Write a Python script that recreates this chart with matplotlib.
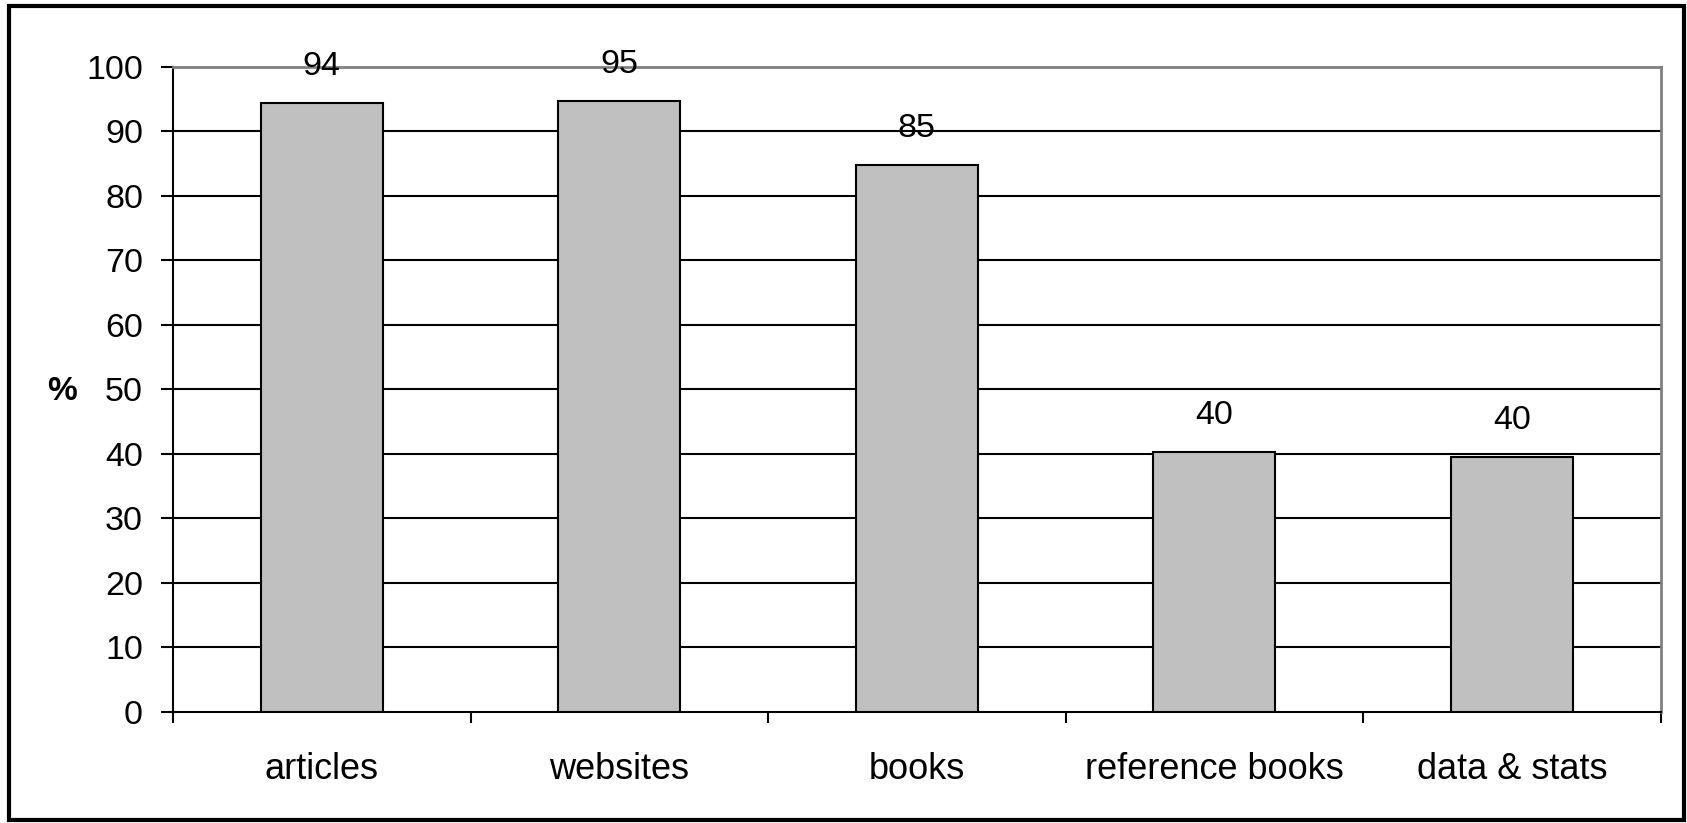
import numpy as np
import matplotlib.pyplot as plt
from matplotlib.patches import Rectangle

plt.rcParams['font.family'] = ['Liberation Sans', 'DejaVu Sans']

# Data
categories = ['articles', 'websites', 'books', 'reference books', 'data & stats']
values = [94.3, 94.7, 84.7, 40.3, 39.5]
labels = ['94', '95', '85', '40', '40']

fig = plt.figure(figsize=(16.87, 8.23), dpi=100)
ax = fig.add_axes([0.1025, 0.135, 0.882, 0.784])

x = np.arange(len(categories))
bars = ax.bar(x, values, width=0.41, color='#C0C0C0', edgecolor='black',
              linewidth=1.5, zorder=3)

for xi, v, lab in zip(x, values, labels):
    ax.annotate(lab, (xi, v), xytext=(0, 26.5), textcoords='offset points',
                ha='center', va='center', fontsize=24.5, zorder=4)

ax.set_xlim(-0.5, len(categories) - 0.5)
ax.set_ylim(0, 100)
ax.set_yticks(np.arange(0, 101, 10))
ax.tick_params(axis='y', labelsize=24.5, length=8.5, width=1.5, direction='out', pad=13)

# category labels centred, ticks at the boundaries
ax.set_xticks(x)
ax.set_xticklabels(categories, fontsize=26)
ax.tick_params(axis='x', which='major', length=0, pad=29)
ax.set_xticks(np.arange(-0.5, len(categories)), minor=True)
ax.tick_params(axis='x', which='minor', length=8, width=1.5, direction='out')

for yv in range(10, 100, 10):
    ax.axhline(yv, color='black', linewidth=1.5, zorder=1)

ax.spines['left'].set_color('black')
ax.spines['bottom'].set_color('black')
ax.spines['left'].set_linewidth(1.5)
ax.spines['bottom'].set_linewidth(1.5)
ax.spines['top'].set_color('#808080')
ax.spines['right'].set_color('#808080')
ax.spines['top'].set_linewidth(2)
ax.spines['right'].set_linewidth(2)

fig.text(62 / 1687, 1 - 392 / 823, '%', fontsize=24, fontweight='bold',
         ha='center', va='center')

# outer chart frame
fig.patches.append(Rectangle((0.0055, 0.004), 0.9925, 0.989, transform=fig.transFigure,
                             fill=False, edgecolor='black', linewidth=3))

fig.savefig('out.png', dpi=100)
